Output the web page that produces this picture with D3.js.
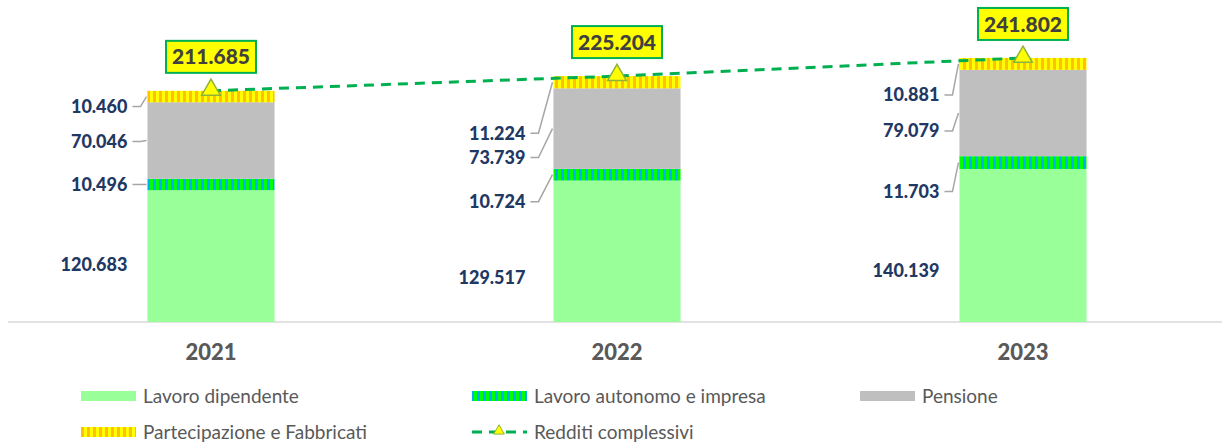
<!DOCTYPE html>
<html>
<head>
<meta charset="utf-8">
<script src="https://cdn.jsdelivr.net/npm/d3@7"></script>
<style>
  body { margin: 0; background: #fff; }
  svg { display: block; font-family: Lato, "Open Sans", sans-serif; }
</style>
</head>
<body>
<svg id="chart" width="1224" height="443"></svg>
<script>
// data
const years = ['2021', '2022', '2023'];
const seriesNames = ['Lavoro dipendente', 'Lavoro autonomo e impresa', 'Pensione', 'Partecipazione e Fabbricati'];
const dipendente = [120.683, 129.517, 140.139];
const autonomo = [10.496, 10.724, 11.703];
const pensione = [70.046, 73.739, 79.079];
const partecipazione = [10.460, 11.224, 10.881];
const totali = [211.685, 225.204, 241.802];
const totaleName = 'Redditi complessivi';

// label nudges (px, from segment middle) - like the moved labels in the original
const labelShift = [
  [9, 0, 1, 10],
  [26, 27, 29, 51],
  [25, 29, 18, 31]
];
const labelGap = [20, 28, 20];

const svg = d3.select('#chart');
const margin = { top: 49, bottom: 322, left: 8, right: 1226 };

const x = d3.scaleBand()
  .domain(years)
  .range([margin.left, margin.right])
  .paddingInner(0.687)
  .paddingOuter(0.3435);

const y = d3.scaleLinear()
  .domain([0, 250])
  .range([margin.bottom, margin.top]);

const fills = ['#99FF99', 'url(#pAut)', '#BFBFBF', 'url(#pPar)'];

// stripe patterns
const defs = svg.append('defs');
function stripes(id, base, stripe) {
  const p = defs.append('pattern')
    .attr('id', id)
    .attr('patternUnits', 'userSpaceOnUse')
    .attr('width', 6).attr('height', 10);
  p.append('rect').attr('width', 6).attr('height', 10).attr('fill', base);
  p.append('rect').attr('width', 3).attr('height', 10).attr('fill', stripe);
}
stripes('pAut', '#00B0F0', '#00FF00');
stripes('pPar', '#FFC000', '#FFFF00');

const table = years.map((yr, i) => ({
  year: yr, 0: dipendente[i], 1: autonomo[i], 2: pensione[i], 3: partecipazione[i]
}));
const stack = d3.stack().keys([0, 1, 2, 3])(table);

// axis line
svg.append('line')
  .attr('x1', 8).attr('x2', 1222)
  .attr('y1', y(0)).attr('y2', y(0))
  .attr('stroke', '#D9D9D9').attr('stroke-width', 1.5);

// bars
svg.append('g')
  .selectAll('g')
  .data(stack)
  .join('g')
    .attr('fill', (d, i) => fills[i])
  .selectAll('rect')
  .data(d => d)
  .join('rect')
    .attr('x', d => x(d.data.year))
    .attr('y', d => y(d[1]))
    .attr('width', x.bandwidth())
    .attr('height', d => y(d[0]) - y(d[1]));

// segment labels + leader lines
const labels = svg.append('g');
stack.forEach((s, k) => {
  s.forEach((d, i) => {
    const left = x(d.data.year);
    const mid = (y(d[0]) + y(d[1])) / 2;
    const ly = mid + labelShift[i][k];
    const tx = left - labelGap[i];
    labels.append('text')
      .attr('x', tx).attr('y', ly)
      .attr('dy', '0.35em')
      .attr('text-anchor', 'end')
      .attr('font-size', 18)
      .attr('font-weight', 900)
      .attr('fill', '#1F3864')
      .text(d3.format('.3f')(d[1] - d[0]));
    if (k > 0) {
      labels.append('polyline')
        .attr('points', [[tx + 5, ly], [tx + 13, ly], [left - 1, mid]].map(p => p.join(',')).join(' '))
        .attr('fill', 'none')
        .attr('stroke', '#A6A6A6')
        .attr('stroke-width', 1.5);
    }
  });
});

// total line
const cx = yr => x(yr) + x.bandwidth() / 2;
const pts = years.map((yr, i) => [cx(yr), y(totali[i])]);
svg.append('path')
  .attr('d', d3.line()(pts))
  .attr('fill', 'none')
  .attr('stroke', '#00B050')
  .attr('stroke-width', 3)
  .attr('stroke-dasharray', '10,7');

const tri = d3.symbol().type(d3.symbolTriangle);
svg.append('g')
  .selectAll('path')
  .data(pts)
  .join('path')
    .attr('d', tri.size(150))
    .attr('transform', d => `translate(${d[0]},${d[1] - 1})`)
    .attr('fill', '#FFFF00')
    .attr('stroke', '#8DB33A')
    .attr('stroke-width', 1.5);

// total boxes
const boxes = svg.append('g')
  .selectAll('g')
  .data(years)
  .join('g')
    .attr('transform', (yr, i) => `translate(${cx(yr)},${y(totali[i]) - 34})`);
boxes.append('rect')
  .attr('x', -45).attr('y', -16)
  .attr('width', 90).attr('height', 32)
  .attr('fill', '#FFFF00')
  .attr('stroke', '#00B050')
  .attr('stroke-width', 2);
boxes.append('text')
  .attr('text-anchor', 'middle')
  .attr('dy', '0.36em')
  .attr('font-size', 21)
  .attr('font-weight', 900)
  .attr('fill', '#404040')
  .text((yr, i) => d3.format('.3f')(totali[i]));

// x axis labels
svg.append('g')
  .selectAll('text')
  .data(years)
  .join('text')
    .attr('x', d => cx(d))
    .attr('y', 360)
    .attr('text-anchor', 'middle')
    .attr('font-size', 22)
    .attr('font-weight', 900)
    .attr('fill', '#595959')
    .text(d => d);

// legend
const legendPos = [[81, 396], [472, 396], [860, 396], [81, 432]];
const legend = svg.append('g');
seriesNames.forEach((name, i) => {
  const [lx, ly] = legendPos[i];
  legend.append('rect')
    .attr('x', lx).attr('y', ly - 5)
    .attr('width', 55).attr('height', 10)
    .attr('fill', fills[i]);
  legend.append('text')
    .attr('x', lx + 62).attr('y', ly)
    .attr('dy', '0.35em')
    .attr('font-size', 19)
    .attr('fill', '#595959')
    .text(name);
});
legend.append('line')
  .attr('x1', 472).attr('x2', 527)
  .attr('y1', 432).attr('y2', 432)
  .attr('stroke', '#00B050')
  .attr('stroke-width', 3)
  .attr('stroke-dasharray', '10,7');
legend.append('path')
  .attr('d', tri.size(50))
  .attr('transform', 'translate(499,431)')
  .attr('fill', '#FFFF00')
  .attr('stroke', '#8DB33A')
  .attr('stroke-width', 1);
legend.append('text')
  .attr('x', 534).attr('y', 432)
  .attr('dy', '0.35em')
  .attr('font-size', 19)
  .attr('fill', '#595959')
  .text(totaleName);
</script>
</body>
</html>
